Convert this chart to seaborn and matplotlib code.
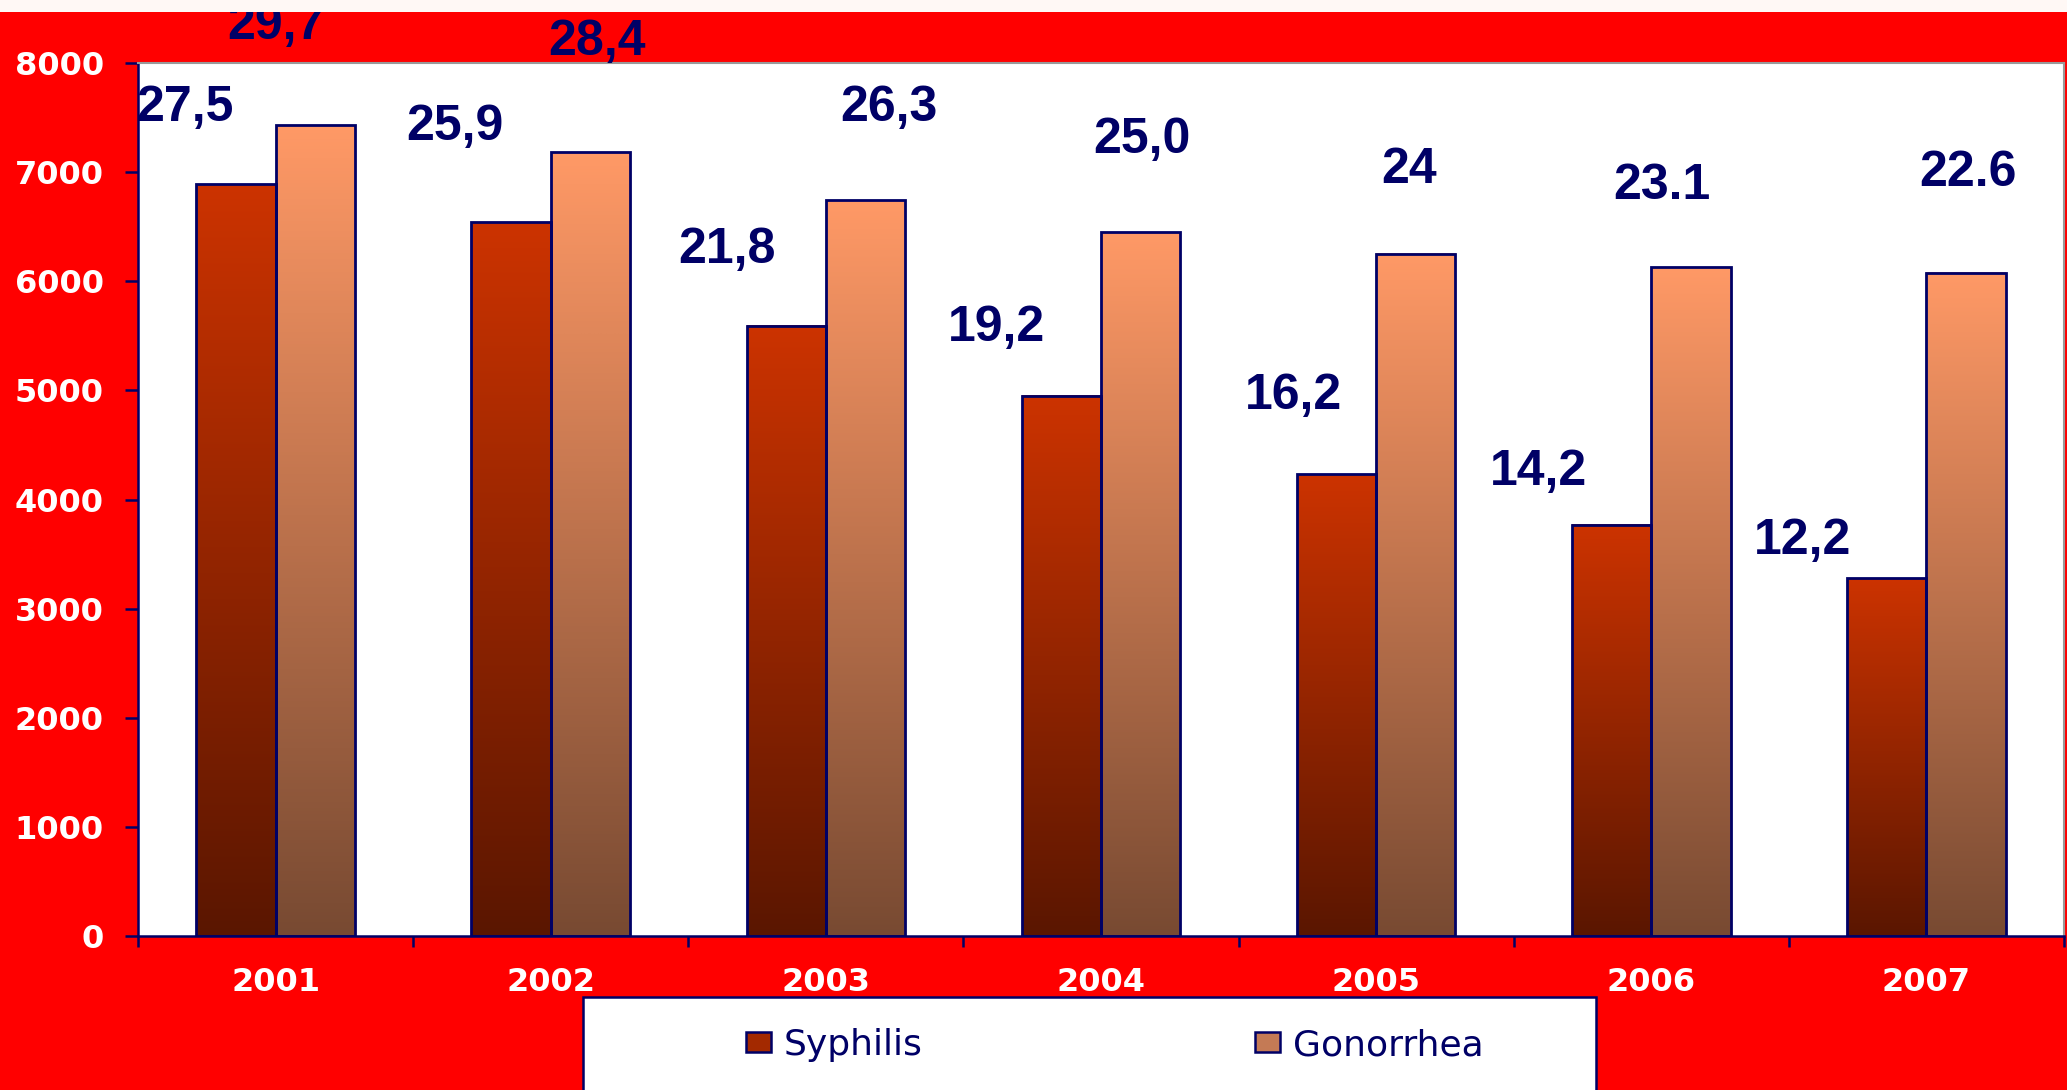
import numpy as np
import pandas as pd
import matplotlib
matplotlib.use('Agg')
import matplotlib.pyplot as plt
from matplotlib.colors import LinearSegmentedColormap
from matplotlib.patches import Rectangle, Patch
import seaborn as sns

years = ['2001', '2002', '2003', '2004', '2005', '2006', '2007']
diseases = ['Syphilis', 'Gonorrhea']

# cases per year (bar heights)
syphilis = [6890, 6540, 5590, 4950, 4230, 3770, 3280]
gonorrhea = [7430, 7180, 6740, 6450, 6250, 6130, 6080]

# rate labels written above the bars (kept as in the source, commas and dots)
syphilis_rate = ['27,5', '25,9', '21,8', '19,2', '16,2', '14,2', '12,2']
gonorrhea_rate = ['29,7', '28,4', '26,3', '25,0', '24', '23.1', '22.6']

# where the rate labels sit, relative to the year slot and the bar top
syph_dx = [-0.33, -0.35, -0.36, -0.38, -0.30, -0.41, -0.45]
syph_dy = [700, 870, 700, 620, 720, 480, 340]
gon_dx = [0.00, 0.17, 0.23, 0.15, 0.12, 0.04, 0.15]
gon_dy = [910, 1015, 850, 840, 770, 740, 910]

df = pd.DataFrame({
    'year': years * 2,
    'cases': syphilis + gonorrhea,
    'disease': ['Syphilis'] * 7 + ['Gonorrhea'] * 7,
})

NAVY = '#000066'
RED = '#ff0000'
W, H = 2067, 1090
grad = {'Syphilis': ('#5a1600', '#cc3300'),
        'Gonorrhea': ('#784a32', '#ff9966')}

fig = plt.figure(figsize=(W / 100, H / 100), dpi=100, facecolor=RED)
# thin light strip at the very top (title cut off)
fig.patches.append(Rectangle((0, 1 - 12 / H), 1, 12 / H, transform=fig.transFigure,
                             facecolor='#fff8f5', edgecolor='none', zorder=0))

ax = fig.add_axes([138 / W, 154 / H, 1926 / W, 873 / H])
ax.set_facecolor('white')

sns.barplot(data=df, x='year', y='cases', hue='disease', hue_order=diseases,
            palette=['#cc3300', '#ff9966'], width=0.576, gap=0, saturation=1,
            edgecolor=NAVY, linewidth=2, errorbar=None, legend=False, ax=ax)

# vertical gradient fill for every bar
for cont, name in zip(ax.containers, diseases):
    cmap = LinearSegmentedColormap.from_list(name, grad[name])
    for bar in cont:
        x0, w, h = bar.get_x(), bar.get_width(), bar.get_height()
        ax.imshow(np.linspace(1, 0, 256).reshape(-1, 1), cmap=cmap, vmin=0, vmax=1,
                  extent=[x0, x0 + w, 0, h], aspect='auto', zorder=1,
                  interpolation='bilinear')
        bar.set_facecolor('none')
        bar.set_zorder(2)

ax.set_xlim(-0.5, 6.5)
ax.set_ylim(0, 8000)
ax.set_xlabel('')
ax.set_ylabel('')

for s in ['left', 'bottom']:
    ax.spines[s].set_color(NAVY)
    ax.spines[s].set_linewidth(1.8)
for s in ['top', 'right']:
    ax.spines[s].set_color('#999999')
    ax.spines[s].set_linewidth(1.5)

tick_font = {'family': 'DejaVu Sans', 'weight': 'bold', 'size': 23}
ax.set_yticks(range(0, 8001, 1000))
ax.set_yticklabels([str(v) for v in range(0, 8001, 1000)], fontdict=tick_font)
ax.tick_params(axis='y', direction='out', length=9.5, width=1.8, color=NAVY,
               pad=15, labelcolor='white')

ax.set_xticks(np.arange(-0.5, 7, 1))
ax.set_xticklabels([])
ax.set_xticks(range(7), minor=True)
ax.set_xticklabels(years, minor=True, fontdict=tick_font)
ax.tick_params(axis='x', which='major', direction='out', length=8, width=1.8, color=NAVY)
ax.tick_params(axis='x', which='minor', length=0, pad=22, labelcolor='white')

label_font = dict(ha='center', va='center', fontsize=36, fontweight='bold',
                  family=['Liberation Sans', 'DejaVu Sans'], color=NAVY,
                  clip_on=False, zorder=5)
for i in range(len(years)):
    ax.text(i + syph_dx[i], syphilis[i] + syph_dy[i], syphilis_rate[i], **label_font)
    ax.text(i + gon_dx[i], gonorrhea[i] + gon_dy[i], gonorrhea_rate[i], **label_font)

# legend box running off the bottom edge
fig.patches.append(Rectangle((583 / W, -0.02), (1596 - 583) / W, (H - 997) / H + 0.02,
                             transform=fig.transFigure, facecolor='white',
                             edgecolor=NAVY, linewidth=1.8, zorder=1))
handles = [Patch(facecolor='#a32900', edgecolor=NAVY, linewidth=1.8, label='Syphilis'),
           Patch(facecolor='#c47a55', edgecolor=NAVY, linewidth=1.8, label='Gonorrhea')]
fig.legend(handles=handles, loc='center left', bbox_to_anchor=(746 / W, 1 - 1045 / H),
           ncol=2, frameon=False, prop={'family': 'DejaVu Sans', 'size': 26},
           handlelength=0.69, handleheight=0.47, handletextpad=0.36,
           columnspacing=9.2, borderpad=0, borderaxespad=0, labelcolor=NAVY)

fig.savefig('out.png', dpi=100, facecolor=fig.get_facecolor())
